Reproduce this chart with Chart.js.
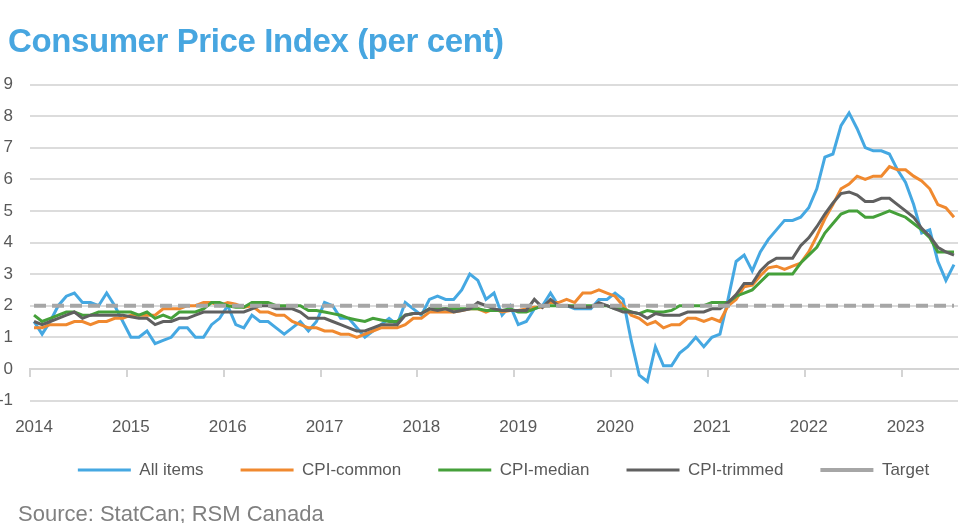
<!DOCTYPE html>
<html>
<head>
<meta charset="utf-8">
<script src="https://cdn.jsdelivr.net/npm/chart.js@4/dist/chart.umd.min.js"></script>
<style>
  body { margin: 0; background: #fff; }
  #wrap { position: relative; width: 963px; height: 523px; overflow: hidden; }
  #title { position: absolute; left: 8px; top: 24px; font: bold 33px 'Liberation Sans', Arial, sans-serif; letter-spacing: -0.4px; color: #47a6e0; line-height: 33px; white-space: nowrap; }
  #source { position: absolute; left: 18px; top: 503px; font: 22px 'Liberation Sans', Arial, sans-serif; color: #808080; line-height: 22px; white-space: nowrap; }
  canvas { position: absolute; left: 0; top: 0; }
</style>
</head>
<body>
<div id="wrap">
  <canvas id="cpiChart" width="963" height="523"></canvas>
  <div id="title">Consumer Price Index (per cent)</div>
  <div id="source">Source: StatCan; RSM Canada</div>
</div>
<script>
// monthly y/y, Jan 2014 - Jul 2023
const years = ['2014', '2015', '2016', '2017', '2018', '2019', '2020', '2021', '2022', '2023'];
const months = ['Jan', 'Feb', 'Mar', 'Apr', 'May', 'Jun', 'Jul', 'Aug', 'Sep', 'Oct', 'Nov', 'Dec'];
const yTicks = [-1, 0, 1, 2, 3, 4, 5, 6, 7, 8, 9];

const allItems = [
  1.5, 1.1, 1.5, 2.0, 2.3, 2.4, 2.1, 2.1, 2.0, 2.4, 2.0, 1.5,
  1.0, 1.0, 1.2, 0.8, 0.9, 1.0, 1.3, 1.3, 1.0, 1.0, 1.4, 1.6,
  2.0, 1.4, 1.3, 1.7, 1.5, 1.5, 1.3, 1.1, 1.3, 1.5, 1.2, 1.5,
  2.1, 2.0, 1.6, 1.6, 1.3, 1.0, 1.2, 1.4, 1.6, 1.4, 2.1, 1.9,
  1.7, 2.2, 2.3, 2.2, 2.2, 2.5, 3.0, 2.8, 2.2, 2.4, 1.7, 2.0,
  1.4, 1.5, 1.9, 2.0, 2.4, 2.0, 2.0, 1.9, 1.9, 1.9, 2.2, 2.2,
  2.4, 2.2, 0.9, -0.2, -0.4, 0.7, 0.1, 0.1, 0.5, 0.7, 1.0, 0.7,
  1.0, 1.1, 2.2, 3.4, 3.6, 3.1, 3.7, 4.1, 4.4, 4.7, 4.7, 4.8,
  5.1, 5.7, 6.7, 6.8, 7.7, 8.1, 7.6, 7.0, 6.9, 6.9, 6.8, 6.3,
  5.9, 5.2, 4.3, 4.4, 3.4, 2.8, 3.3
];
const cpiCommon = [
  1.3, 1.3, 1.4, 1.4, 1.4, 1.5, 1.5, 1.4, 1.5, 1.5, 1.6, 1.6,
  1.7, 1.7, 1.7, 1.7, 1.9, 1.9, 1.9, 2.0, 2.0, 2.1, 2.1, 2.0,
  2.1, 2.05, 1.95, 2.0, 1.8, 1.8, 1.7, 1.7, 1.5, 1.4, 1.3, 1.3,
  1.2, 1.2, 1.1, 1.1, 1.0, 1.1, 1.2, 1.3, 1.3, 1.3, 1.4, 1.6,
  1.6, 1.8, 1.8, 1.8, 1.8, 1.85, 1.9, 1.9, 1.8, 1.9, 1.8, 1.85,
  1.85, 1.9, 1.95, 1.95, 2.1, 2.1, 2.2, 2.1, 2.4, 2.4, 2.5, 2.4,
  2.3, 2.0, 1.7, 1.6, 1.4, 1.5, 1.3, 1.4, 1.4, 1.6, 1.6, 1.5,
  1.6, 1.5, 2.0, 2.2, 2.6, 2.65, 2.95, 3.2, 3.25, 3.15, 3.25, 3.35,
  3.7, 4.2, 4.75, 5.2, 5.7, 5.85, 6.1, 6.0, 6.1, 6.1, 6.4, 6.3,
  6.3, 6.1, 5.95, 5.7, 5.2, 5.1, 4.8
];
const cpiMedian = [
  1.7, 1.5, 1.6, 1.7, 1.8, 1.8, 1.7, 1.7, 1.8, 1.8, 1.8, 1.8,
  1.8, 1.7, 1.8, 1.6, 1.7, 1.6, 1.8, 1.8, 1.8, 1.9, 2.1, 2.1,
  2.0, 1.95, 1.95, 2.1, 2.1, 2.1, 2.0, 2.0, 2.0, 2.0, 1.85, 1.85,
  1.8, 1.75, 1.7, 1.6, 1.55, 1.5, 1.6, 1.55, 1.5, 1.5, 1.7, 1.75,
  1.75, 1.9, 1.9, 1.9, 1.9, 1.9, 1.9, 1.9, 1.85, 1.85, 1.85, 1.9,
  1.8, 1.8, 1.9, 2.0, 2.0, 2.0, 2.0, 2.0, 2.0, 2.0, 2.0, 2.0,
  1.9, 1.9, 1.8, 1.75, 1.85, 1.8, 1.8, 1.85, 2.0, 2.0, 2.0, 2.0,
  2.1, 2.1, 2.1, 2.3, 2.4, 2.5, 2.75, 3.0, 3.0, 3.0, 3.0, 3.35,
  3.6, 3.85, 4.3, 4.6, 4.9, 5.0, 5.0, 4.8, 4.8, 4.9, 5.0, 4.9,
  4.8, 4.6, 4.4, 4.15, 3.7, 3.7, 3.7
];
const cpiTrimmed = [
  1.5, 1.4, 1.5, 1.6, 1.7, 1.8, 1.6, 1.7, 1.7, 1.7, 1.7, 1.7,
  1.65, 1.6, 1.6, 1.4, 1.5, 1.5, 1.6, 1.6, 1.7, 1.8, 1.8, 1.8,
  1.8, 1.8, 1.8, 1.9, 2.0, 2.0, 1.9, 1.9, 1.9, 1.8, 1.6, 1.6,
  1.6, 1.5, 1.4, 1.3, 1.2, 1.2, 1.3, 1.4, 1.4, 1.4, 1.7, 1.75,
  1.75, 1.9, 1.85, 1.9, 1.8, 1.85, 1.9, 2.1, 2.0, 1.9, 1.85, 1.85,
  1.85, 1.85, 2.2, 1.95, 2.2, 2.0, 2.0, 1.95, 1.95, 1.95, 2.1, 2.0,
  1.9, 1.8, 1.8, 1.75, 1.6, 1.75, 1.7, 1.7, 1.7, 1.8, 1.8, 1.8,
  1.9, 1.9, 2.1, 2.35, 2.7, 2.7, 3.1, 3.35, 3.5, 3.5, 3.5, 3.9,
  4.15, 4.5, 4.9, 5.25, 5.55, 5.6, 5.5, 5.3, 5.3, 5.4, 5.4, 5.2,
  5.0, 4.8, 4.45, 4.2, 3.85, 3.7, 3.6
];
const target = [
  2, 2, 2, 2, 2, 2, 2, 2, 2, 2, 2, 2,
  2, 2, 2, 2, 2, 2, 2, 2, 2, 2, 2, 2,
  2, 2, 2, 2, 2, 2, 2, 2, 2, 2, 2, 2,
  2, 2, 2, 2, 2, 2, 2, 2, 2, 2, 2, 2,
  2, 2, 2, 2, 2, 2, 2, 2, 2, 2, 2, 2,
  2, 2, 2, 2, 2, 2, 2, 2, 2, 2, 2, 2,
  2, 2, 2, 2, 2, 2, 2, 2, 2, 2, 2, 2,
  2, 2, 2, 2, 2, 2, 2, 2, 2, 2, 2, 2,
  2, 2, 2, 2, 2, 2, 2, 2, 2, 2, 2, 2,
  2, 2, 2, 2, 2, 2, 2
];

const monthLabels = years.flatMap(y => months.map(m => m + ' ' + y)).slice(0, allItems.length);

Chart.defaults.font.family = "'Liberation Sans', Arial, sans-serif";
Chart.defaults.color = '#595959';

let ctx = document.getElementById('cpiChart').getContext('2d');

function line(label, data, color, width, order, dash) {
  return {
    label: label,
    data: data,
    borderColor: color,
    backgroundColor: color,
    borderWidth: width,
    borderDash: dash || [],
    pointRadius: 0,
    tension: 0,
    fill: false,
    order: order,
    xAxisID: 'x'
  };
}

// the legend in the original sits a bit right of centre and closer to the axis
const moveLegend = {
  id: 'moveLegend',
  afterLayout(chart) {
    const lg = chart.legend;
    lg.left += 24; lg.right += 24;
    lg.top -= 12; lg.bottom -= 12;
  }
};

let myChart = new Chart(ctx, {
  type: 'line',
  data: {
    labels: monthLabels,
    datasets: [
      line('All items', allItems, '#45a8e2', 3, 5),
      line('CPI-common', cpiCommon, '#f0892f', 3, 4),
      line('CPI-median', cpiMedian, '#45a03a', 3, 3),
      line('CPI-trimmed', cpiTrimmed, '#606060', 3, 2),
      line('Target', target, '#a6a6a6', 4, 1, [12, 6])
    ]
  },
  plugins: [moveLegend],
  options: {
    responsive: false,
    devicePixelRatio: 1,
    animation: false,
    layout: { padding: { top: 84.5, right: 4, bottom: 26.5, left: 0 } },
    plugins: {
      tooltip: { enabled: false },
      legend: {
        position: 'bottom',
        maxHeight: 60,
        labels: {
          usePointStyle: true,
          pointStyle: 'line',
          pointStyleWidth: 53,
          padding: 37,
          color: '#595959',
          font: { size: 17 },
          sort: (a, b) => a.datasetIndex - b.datasetIndex
        }
      }
    },
    scales: {
      y: {
        min: yTicks[0],
        max: yTicks[yTicks.length - 1],
        afterBuildTicks: (s) => { s.ticks = yTicks.map(v => ({ value: v })); },
        afterFit: (s) => { s.width = 30; },
        ticks: { padding: 17, color: '#595959', font: { size: 17 } },
        grid: { color: '#dcdcdc', lineWidth: 2, drawTicks: false },
        border: { display: false }
      },
      // axis line at 0 with year tick marks
      x: {
        type: 'category',
        position: { y: 0 },
        offset: true,
        ticks: { display: false, autoSkip: false },
        grid: {
          offset: true,
          drawOnChartArea: false,
          drawTicks: true,
          tickLength: 7,
          lineWidth: 2,
          color: (c) => c.index % 12 === 0 ? '#d4d4d4' : 'rgba(0,0,0,0)'
        },
        border: { display: true, color: '#d4d4d4', width: 2 }
      },
      // year labels at the bottom
      x2: {
        type: 'category',
        position: 'bottom',
        offset: true,
        afterFit: (s) => { s.height = 36; },
        ticks: {
          autoSkip: false,
          maxRotation: 0,
          padding: 9,
          color: '#595959',
          font: { size: 17 },
          callback: (value, index) => index % 12 === 0 ? years[index / 12] : ''
        },
        grid: { display: false },
        border: { display: false }
      }
    }
  }
});
</script>
</body>
</html>
